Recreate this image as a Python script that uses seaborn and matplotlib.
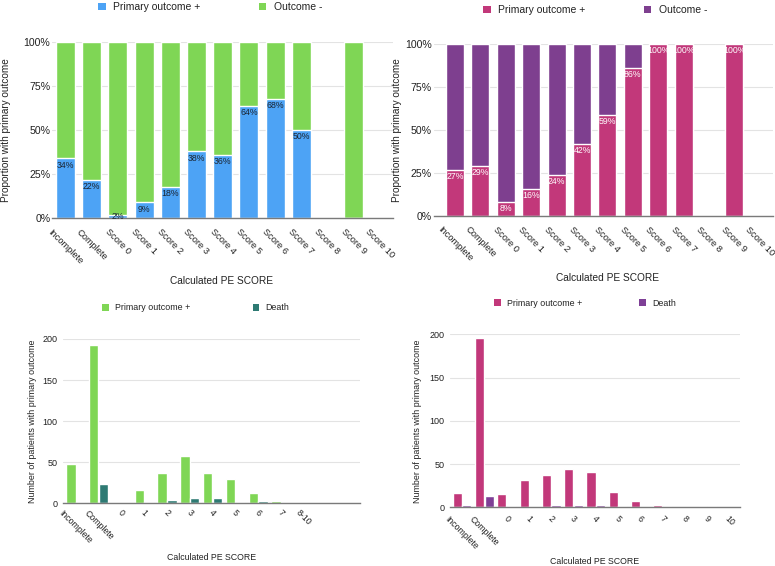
import matplotlib
matplotlib.use('Agg')
import matplotlib.pyplot as plt
import seaborn as sns
import pandas as pd
from matplotlib.patches import Patch
from matplotlib.ticker import FuncFormatter

# Datos
score_cats = ['Incomplete', 'Complete', 'Score 0', 'Score 1', 'Score 2', 'Score 3', 'Score 4',
              'Score 5', 'Score 6', 'Score 7', 'Score 8', 'Score 9', 'Score 10']

# Panel arriba izquierda (% con outcome primario)
pct_pos_a = [34, 22, 2, 9, 18, 38, 36, 64, 68, 50, 0, 0, 0]
pct_neg_a = [66, 78, 98, 91, 82, 62, 64, 36, 32, 50, 0, 100, 0]

# Panel arriba derecha
pct_pos_b = [27, 29, 8, 16, 24, 42, 59, 86, 100, 100, 0, 100, 0]
pct_neg_b = [73, 71, 92, 84, 76, 58, 41, 14, 0, 0, 0, 0, 0]

# Panel abajo izquierda (numero de pacientes)
count_cats_c = ['Incomplete', 'Complete', '0', '1', '2', '3', '4', '5', '6', '7', '8-10']
primary_c = [48, 193, 0, 16, 37, 57, 37, 30, 13, 3, 0]
death_c = [1, 23, 0, 1, 4, 7, 7, 1, 3, 0, 0]

# Panel abajo derecha
count_cats_d = ['Incomplete', 'Complete', '0', '1', '2', '3', '4', '5', '6', '7', '8', '9', '10']
primary_d = [17, 196, 15, 31, 37, 44, 41, 18, 7, 3, 0, 1, 0]
death_d = [3, 13, 1, 0, 3, 3, 3, 1, 0, 2, 0, 1, 0]

BLUE = '#4da3f5'
GREEN = '#7fd655'
MAGENTA = '#c2387a'
PURPLE = '#7e3f8f'
TEAL = '#2e7a73'
PURPLE2 = '#7e3f96'

sns.set_theme(style="whitegrid")
plt.rcParams['font.family'] = ['Liberation Sans', 'DejaVu Sans']
plt.rcParams['text.color'] = '#222222'

W, H = 775, 566
fig = plt.figure(figsize=(W / 100, H / 100), dpi=100)


def px_rect(l, t, r, b):
    return [l / W, 1 - b / H, (r - l) / W, (b - t) / H]


def base_style(ax, xsize, ysize, xpad, ypad):
    ax.set_facecolor('white')
    for s in ['top', 'right', 'left']:
        ax.spines[s].set_visible(False)
    ax.spines['bottom'].set_color('#7a7a7a')
    ax.spines['bottom'].set_linewidth(1)
    ax.xaxis.grid(False)
    ax.yaxis.grid(True, color='#e3e3e3', linewidth=0.8)
    ax.tick_params(axis='both', length=0, colors='#222222')
    ax.tick_params(axis='x', pad=xpad, labelsize=xsize)
    ax.tick_params(axis='y', pad=ypad, labelsize=ysize)
    for lab in ax.get_xticklabels():
        lab.set_rotation(-45)
        lab.set_ha('center')
        lab.set_va('top')
    ax.set_xlabel('')
    ax.set_ylabel('')


def stacked_panel(rect, xlim, pos, neg, c_pos, c_neg, label_color, width):
    ax = fig.add_axes(rect)
    total = [p + n for p, n in zip(pos, neg)]
    sns.barplot(x=score_cats, y=total, color=c_neg, saturation=1, width=width, errorbar=None, ax=ax)
    sns.barplot(x=score_cats, y=pos, color=c_pos, saturation=1, width=width, errorbar=None, ax=ax)
    ax.set_ylim(0, 100)
    ax.set_yticks([0, 25, 50, 75, 100])
    ax.yaxis.set_major_formatter(FuncFormatter(lambda v, _: f'{int(v)}%'))
    ax.set_xlim(*xlim)
    base_style(ax, 6.7, 7.6, 6.5, 1.5)
    for i, v in enumerate(pos):
        if v > 0:
            ax.annotate(f'{v}%', (i, max(v, 5)), xytext=(0, -1.5), textcoords='offset points',
                        ha='center', va='top', fontsize=6.3, color=label_color)
    return ax


def grouped_panel(rect, xlim, cats, prim, death, c_prim, c_death, xpad):
    ax = fig.add_axes(rect)
    df = pd.DataFrame({
        'cat': cats * 2,
        'n': prim + death,
        'serie': ['Primary outcome +'] * len(cats) + ['Death'] * len(cats),
    })
    sns.barplot(data=df, x='cat', y='n', hue='serie', order=cats,
                palette={'Primary outcome +': c_prim, 'Death': c_death},
                saturation=1, width=0.86, gap=0.04, errorbar=None, legend=False, ax=ax)
    ax.set_ylim(0, 200)
    ax.set_yticks([0, 50, 100, 150, 200])
    ax.set_xlim(*xlim)
    base_style(ax, 6.3, 6.5, xpad, 4)
    return ax


def legend(ax, x, y, labels, colors, size, colsp):
    handles = [Patch(facecolor=c, edgecolor='none') for c in colors]
    ax.legend(handles, labels, loc='center', bbox_to_anchor=(x / W, 1 - y / H),
              bbox_transform=fig.transFigure, ncol=2, frameon=False, fontsize=size,
              handlelength=0.75, handleheight=0.75, handletextpad=0.7, columnspacing=colsp,
              borderpad=0)


# Grafico 1: proporcion (azul / verde)
ax1 = stacked_panel(px_rect(52.4, 42.3, 393, 218.3), (-0.5, 12.5), pct_pos_a, pct_neg_a,
                    BLUE, GREEN, '#1c2633', 0.73)
legend(ax1, 210, 7, ['Primary outcome +', 'Outcome -'], [BLUE, GREEN], 7.5, 5.6)
fig.text(222 / W, 1 - 281 / H, 'Calculated PE SCORE', ha='center', va='center', fontsize=7.3)
fig.text(6 / W, 1 - 130 / H, 'Proportion with primary outcome', rotation=90,
         ha='center', va='center', fontsize=7.2)

# Grafico 2: proporcion (magenta / morado)
ax2 = stacked_panel(px_rect(434, 44.3, 773, 216), (-0.83, 12.52), pct_pos_b, pct_neg_b,
                    MAGENTA, PURPLE, 'white', 0.71)
legend(ax2, 595, 10, ['Primary outcome +', 'Outcome -'], [MAGENTA, PURPLE], 7.5, 5.6)
fig.text(607 / W, 1 - 278 / H, 'Calculated PE SCORE', ha='center', va='center', fontsize=7.3)
fig.text(397 / W, 1 - 130 / H, 'Proportion with primary outcome', rotation=90,
         ha='center', va='center', fontsize=7.2)

# Grafico 3: numero de pacientes (verde / teal)
ax3 = grouped_panel(px_rect(63, 339, 360, 503.3), (-0.56, 12.46), count_cats_c,
                    primary_c, death_c, GREEN, TEAL, 3.5)
legend(ax3, 196, 308, ['Primary outcome +', 'Death'], [GREEN, TEAL], 6.4, 7)
fig.text(212 / W, 1 - 557 / H, 'Calculated PE SCORE', ha='center', va='center', fontsize=6.3)
fig.text(33 / W, 1 - 421 / H, 'Number of patients with primary outcome', rotation=90,
         ha='center', va='center', fontsize=6.4)

# Grafico 4: numero de pacientes (magenta / morado)
ax4 = grouped_panel(px_rect(450, 334.3, 740, 507.3), (-0.54, 12.47), count_cats_d,
                    primary_d, death_d, MAGENTA, PURPLE2, 5)
legend(ax4, 585, 303, ['Primary outcome +', 'Death'], [MAGENTA, PURPLE2], 6.4, 6.4)
fig.text(595 / W, 1 - 562 / H, 'Calculated PE SCORE', ha='center', va='center', fontsize=6.3)
fig.text(418 / W, 1 - 421 / H, 'Number of patients with primary outcome', rotation=90,
         ha='center', va='center', fontsize=6.4)

fig.savefig('out.png', dpi=100, facecolor='white')
